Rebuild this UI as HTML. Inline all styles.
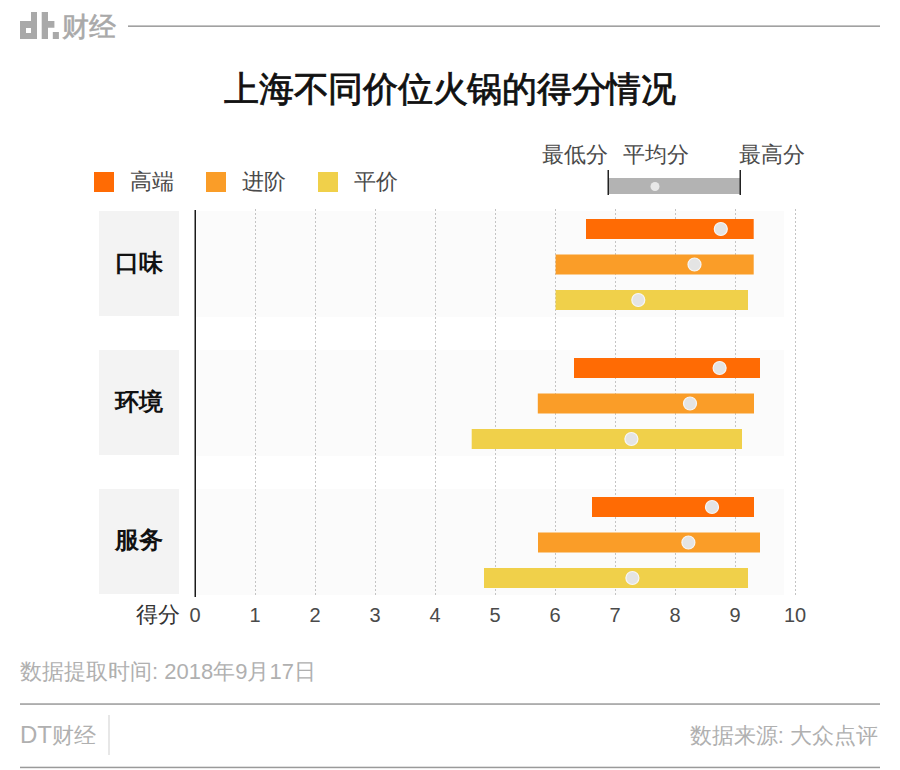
<!DOCTYPE html>
<html><head><meta charset="utf-8">
<style>
html,body{margin:0;padding:0;background:#fff;}
body{width:900px;height:770px;position:relative;overflow:hidden;font-family:"Liberation Sans",sans-serif;}
svg.bg{position:absolute;left:0;top:0;}
.t{position:absolute;white-space:nowrap;line-height:1;}
.title{left:0;width:900px;text-align:center;top:70.5px;font-size:35px;letter-spacing:-0.25px;font-weight:400;color:#111;-webkit-text-stroke:0.8px #111;}
.logo{left:62px;top:13.5px;font-size:27px;color:#a9a9a9;font-weight:400;-webkit-text-stroke:0.6px #a9a9a9;}
.leg{top:171px;font-size:22px;color:#4a4a4a;font-weight:300;}
.ann{top:144px;font-size:22px;color:#4a4a4a;font-weight:300;}
.lab{left:99px;width:80px;text-align:center;font-size:24px;font-weight:bold;color:#111;}
.tick{position:absolute;top:605px;width:40px;text-align:center;font-size:20px;color:#4a4a4a;line-height:1;}
.foot{font-size:22px;color:#b0b0b0;font-weight:300;}
</style></head><body>
<svg class="bg" width="900" height="770" viewBox="0 0 900 770">
<rect x="196" y="211" width="588" height="106" fill="#fbfbfb"/>
<rect x="99" y="211" width="80" height="105" fill="#f3f3f3"/>
<rect x="196" y="350" width="588" height="106" fill="#fbfbfb"/>
<rect x="99" y="350" width="80" height="105" fill="#f3f3f3"/>
<rect x="196" y="489" width="588" height="106" fill="#fbfbfb"/>
<rect x="99" y="489" width="80" height="105" fill="#f3f3f3"/>
<line x1="255.5" y1="209" x2="255.5" y2="597" stroke="#c4c4c4" stroke-width="1" stroke-dasharray="2 2"/>
<line x1="315.5" y1="209" x2="315.5" y2="597" stroke="#c4c4c4" stroke-width="1" stroke-dasharray="2 2"/>
<line x1="375.5" y1="209" x2="375.5" y2="597" stroke="#c4c4c4" stroke-width="1" stroke-dasharray="2 2"/>
<line x1="435.5" y1="209" x2="435.5" y2="597" stroke="#c4c4c4" stroke-width="1" stroke-dasharray="2 2"/>
<line x1="495.5" y1="209" x2="495.5" y2="597" stroke="#c4c4c4" stroke-width="1" stroke-dasharray="2 2"/>
<line x1="555.5" y1="209" x2="555.5" y2="597" stroke="#c4c4c4" stroke-width="1" stroke-dasharray="2 2"/>
<line x1="615.5" y1="209" x2="615.5" y2="597" stroke="#c4c4c4" stroke-width="1" stroke-dasharray="2 2"/>
<line x1="675.5" y1="209" x2="675.5" y2="597" stroke="#c4c4c4" stroke-width="1" stroke-dasharray="2 2"/>
<line x1="735.5" y1="209" x2="735.5" y2="597" stroke="#c4c4c4" stroke-width="1" stroke-dasharray="2 2"/>
<line x1="795.5" y1="209" x2="795.5" y2="597" stroke="#c4c4c4" stroke-width="1" stroke-dasharray="2 2"/>
<rect x="194.5" y="210" width="1.5" height="387" fill="#1a1a1a"/>
<rect x="586" y="219" width="167.7" height="20" fill="#ff6b04"/>
<circle cx="720.8" cy="229" r="6.5" fill="#e4e4e4" stroke="#f6f6f6" stroke-width="1.2"/>
<rect x="555.6" y="254.5" width="198.1" height="20" fill="#fa9d28"/>
<circle cx="694.5" cy="264.5" r="6.5" fill="#e4e4e4" stroke="#f6f6f6" stroke-width="1.2"/>
<rect x="555.6" y="290" width="192.4" height="20" fill="#f0d04a"/>
<circle cx="638.3" cy="300" r="6.5" fill="#e4e4e4" stroke="#f6f6f6" stroke-width="1.2"/>
<rect x="574" y="358" width="186.0" height="20" fill="#ff6b04"/>
<circle cx="719.6" cy="368" r="6.5" fill="#e4e4e4" stroke="#f6f6f6" stroke-width="1.2"/>
<rect x="537.8" y="393.5" width="216.2" height="20" fill="#fa9d28"/>
<circle cx="690" cy="403.5" r="6.5" fill="#e4e4e4" stroke="#f6f6f6" stroke-width="1.2"/>
<rect x="471.7" y="429" width="270.3" height="20" fill="#f0d04a"/>
<circle cx="631.4" cy="439" r="6.5" fill="#e4e4e4" stroke="#f6f6f6" stroke-width="1.2"/>
<rect x="592" y="497" width="162.0" height="20" fill="#ff6b04"/>
<circle cx="712" cy="507" r="6.5" fill="#e4e4e4" stroke="#f6f6f6" stroke-width="1.2"/>
<rect x="538" y="532.5" width="222.0" height="20" fill="#fa9d28"/>
<circle cx="688.4" cy="542.5" r="6.5" fill="#e4e4e4" stroke="#f6f6f6" stroke-width="1.2"/>
<rect x="484" y="568" width="264.0" height="20" fill="#f0d04a"/>
<circle cx="632.4" cy="578" r="6.5" fill="#e4e4e4" stroke="#f6f6f6" stroke-width="1.2"/>
<rect x="608" y="178" width="132" height="16" fill="#b3b3b3"/>
<rect x="607.5" y="170" width="1.5" height="25" fill="#222"/>
<rect x="739.5" y="170" width="1.5" height="25" fill="#222"/>
<circle cx="655" cy="186.5" r="4.5" fill="#e8e8e8"/>
<rect x="94" y="172" width="20" height="20" fill="#ff6b04"/>
<rect x="206" y="172" width="20" height="20" fill="#fa9d28"/>
<rect x="318" y="172" width="20" height="20" fill="#f0d04a"/>
<rect x="128" y="25.5" width="752" height="1.3" fill="#8a8a8a"/>
<path d="M20 21H31V12H37V39H20Z M26 28V33H31V28Z" fill="#a9a9a9" fill-rule="evenodd"/>
<path d="M41.7 12H48V21H54.4V27.8H48V39H41.7Z" fill="#a9a9a9"/>
<rect x="52.8" y="32" width="6.1" height="7" fill="#a9a9a9"/>
<rect x="20" y="703.3" width="860" height="1.5" fill="#9a9a9a"/>
<rect x="20" y="766.7" width="860" height="1.5" fill="#9a9a9a"/>
<rect x="108.5" y="715" width="1" height="40" fill="#cfcfcf"/>
</svg>
<div class="t logo">财经</div>
<div class="t title">上海不同价位火锅的得分情况</div>
<div class="t leg" style="left:130px">高端</div>
<div class="t leg" style="left:242px">进阶</div>
<div class="t leg" style="left:354px">平价</div>
<div class="t ann" style="left:542px">最低分</div>
<div class="t ann" style="left:623px">平均分</div>
<div class="t ann" style="left:739px">最高分</div>
<div class="t lab" style="top:251px">口味</div>
<div class="t lab" style="top:390px">环境</div>
<div class="t lab" style="top:528px">服务</div>
<div class="t" style="left:136px;top:604px;font-size:22px;color:#333;font-weight:300;">得分</div>
<div class="tick" style="left:175px">0</div>
<div class="tick" style="left:235px">1</div>
<div class="tick" style="left:295px">2</div>
<div class="tick" style="left:355px">3</div>
<div class="tick" style="left:415px">4</div>
<div class="tick" style="left:475px">5</div>
<div class="tick" style="left:535px">6</div>
<div class="tick" style="left:595px">7</div>
<div class="tick" style="left:655px">8</div>
<div class="tick" style="left:715px">9</div>
<div class="tick" style="left:775px">10</div>
<div class="t foot" style="left:20px;top:661px">数据提取时间: 2018年9月17日</div>
<div class="t foot" style="left:20px;top:723px"><span style="font-size:24px">DT</span>财经</div>
<div class="t foot" style="right:22px;top:725px">数据来源: 大众点评</div>
</body></html>
